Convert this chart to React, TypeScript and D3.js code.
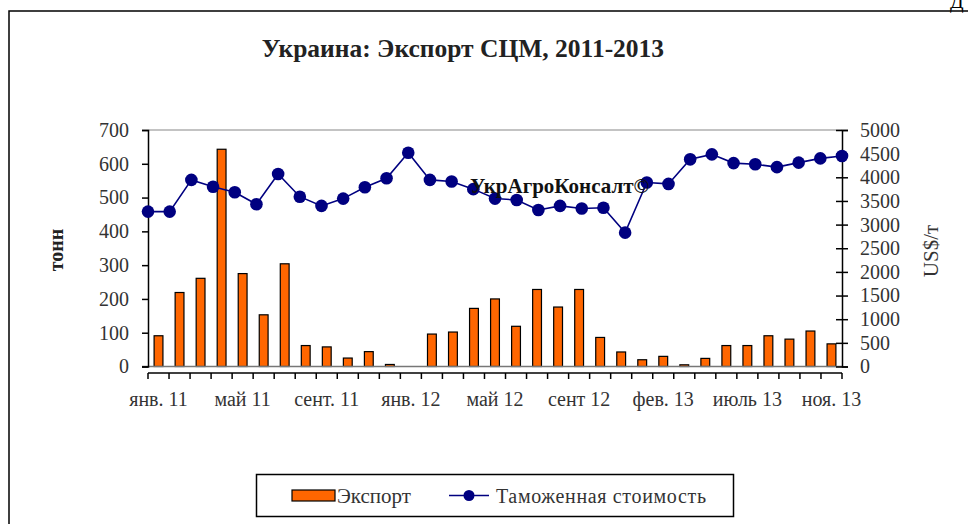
import React, { useEffect, useRef } from 'react';
import * as d3 from 'd3';

// months (some months absent in the source table)
const months = [
  'янв. 11', 'фев. 11', 'март 11', 'апр. 11', 'май 11', 'июнь 11', 'июль 11', 'авг. 11',
  'сент. 11', 'окт. 11', 'ноя. 11', 'дек. 11', 'янв. 12', 'фев. 12', 'март 12', 'апр. 12',
  'май 12', 'июнь 12', 'июль 12', 'авг. 12', 'сент 12', 'окт. 12', 'ноя. 12', 'янв. 13',
  'фев. 13', 'март 13', 'апр. 13', 'июнь 13', 'июль 13', 'авг. 13', 'сент. 13', 'окт. 13', 'ноя. 13',
];

// export, tonnes
const exportTons = [
  91, 219, 261, 643, 275, 153, 304, 62, 58, 25, 44, 6,
  0, 96, 102, 172, 200, 119, 228, 176, 228, 86, 43, 20,
  30, 5, 24, 62, 62, 91, 81, 105, 67,
];

// customs value, US$/t
const customsValue = [
  3275, 3275, 3945, 3800, 3685, 3430, 4070, 3590, 3395, 3550, 3790, 3980,
  4520, 3945, 3910, 3750, 3550, 3520, 3310, 3395, 3340, 3355, 2830, 3890,
  3860, 4380, 4485, 4300, 4275, 4215, 4310, 4400, 4450,
];

const leftTicks = [0, 100, 200, 300, 400, 500, 600, 700];
const rightTicks = [0, 500, 1000, 1500, 2000, 2500, 3000, 3500, 4000, 4500, 5000];

const App = () => {
  const svgRef = useRef<SVGSVGElement>(null);

  useEffect(() => {
    const svg = d3.select(svgRef.current);
    svg.selectAll('*').remove();

    const font = '"Liberation Serif", "Times New Roman", serif';
    const left = 148, right = 842, top = 130, bottom = 366.5;

    // outer frame (cut off at right / bottom)
    svg.append('path')
      .attr('d', 'M9,530 L9,11 L975,11')
      .attr('fill', 'none')
      .attr('stroke', '#000')
      .attr('stroke-width', 1.5);

    svg.append('text')
      .attr('x', 950).attr('y', 8)
      .attr('font-family', font).attr('font-size', 20)
      .text('Д');

    // title
    svg.append('text')
      .attr('x', 463).attr('y', 57)
      .attr('text-anchor', 'middle')
      .attr('font-family', font).attr('font-size', 25.5).attr('font-weight', 'bold')
      .attr('fill', '#222')
      .text('Украина: Экспорт СЦМ, 2011-2013');

    const x = d3.scaleBand<string>()
      .domain(months)
      .range([left, right])
      .paddingInner(0.58)
      .paddingOuter(0.29);

    const xLine = d3.scalePoint<string>()
      .domain(months)
      .range([left, right]);

    const yL = d3.scaleLinear().domain([0, 700]).range([bottom, top]);
    const yR = d3.scaleLinear().domain([0, 5000]).range([bottom, top]);

    // plot area top border
    svg.append('line')
      .attr('x1', left).attr('x2', right).attr('y1', top).attr('y2', top)
      .attr('stroke', '#888').attr('stroke-width', 1.2);

    // bars
    svg.selectAll('.bar')
      .data(exportTons)
      .enter().append('rect')
      .attr('class', 'bar')
      .attr('x', (d, i) => x(months[i]))
      .attr('y', d => yL(d))
      .attr('width', x.bandwidth())
      .attr('height', d => bottom - yL(d))
      .attr('fill', '#FF6600')
      .attr('stroke', '#000')
      .attr('stroke-width', 1.2);

    svg.append('line')
      .attr('x1', left - 6).attr('x2', right).attr('y1', bottom).attr('y2', bottom)
      .attr('stroke', '#777').attr('stroke-width', 1.5);

    // left axis
    const gL = svg.append('g').attr('transform', `translate(${left},0)`)
      .call(d3.axisLeft(yL).tickValues(leftTicks).tickSize(6).tickPadding(13));
    gL.select('.domain').attr('stroke', '#000').attr('stroke-width', 1.5);
    gL.selectAll('.tick line').attr('stroke', '#000').attr('stroke-width', 1.5);
    gL.selectAll('text').attr('font-family', font).attr('font-size', 20).attr('fill', '#333');

    // right axis
    const gR = svg.append('g').attr('transform', `translate(${right},0)`)
      .call(d3.axisRight(yR).tickValues(rightTicks).tickFormat(d3.format('d')).tickSize(6).tickPadding(12));
    gR.select('.domain').attr('stroke', '#000').attr('stroke-width', 1.5);
    gR.selectAll('.tick line').attr('x1', -6).attr('stroke', '#000').attr('stroke-width', 1.5);
    gR.selectAll('text').attr('font-family', font).attr('font-size', 20).attr('fill', '#333');

    // category axis
    const axY = 373;
    const step = x.step();
    const bounds = d3.range(months.length + 1).map(i => left + i * step);
    svg.append('line')
      .attr('x1', left).attr('x2', right).attr('y1', axY).attr('y2', axY)
      .attr('stroke', '#000').attr('stroke-width', 1.5);
    svg.selectAll('.xtick')
      .data(bounds)
      .enter().append('line')
      .attr('class', 'xtick')
      .attr('x1', d => d).attr('x2', d => d)
      .attr('y1', axY).attr('y2', axY + 6)
      .attr('stroke', '#000').attr('stroke-width', 1.5);
    svg.selectAll('.xlabel')
      .data(months.filter((m, i) => i % 4 === 0))
      .enter().append('text')
      .attr('class', 'xlabel')
      .attr('x', d => x(d) + x.bandwidth() / 2)
      .attr('y', 406)
      .attr('text-anchor', 'middle')
      .attr('font-family', font).attr('font-size', 20).attr('fill', '#333')
      .text(d => d);

    // line
    const line = d3.line<number>()
      .x((d, i) => xLine(months[i]))
      .y(d => yR(d));
    svg.append('path')
      .datum(customsValue)
      .attr('d', line)
      .attr('fill', 'none')
      .attr('stroke', '#000080')
      .attr('stroke-width', 1.6);
    svg.selectAll('.pt')
      .data(customsValue)
      .enter().append('circle')
      .attr('class', 'pt')
      .attr('cx', (d, i) => xLine(months[i]))
      .attr('cy', d => yR(d))
      .attr('r', 6.3)
      .attr('fill', '#000080');

    // watermark
    svg.append('text')
      .attr('x', 470).attr('y', 193)
      .attr('font-family', font).attr('font-size', 21).attr('font-weight', 'bold')
      .attr('fill', '#111')
      .text('УкрАгроКонсалт©');

    // axis titles
    svg.append('text')
      .attr('transform', 'translate(63,250) rotate(-90)')
      .attr('text-anchor', 'middle')
      .attr('font-family', font).attr('font-size', 20).attr('font-weight', 'bold')
      .attr('fill', '#222')
      .text('тонн');
    svg.append('text')
      .attr('transform', 'translate(938,251) rotate(-90)')
      .attr('text-anchor', 'middle')
      .attr('font-family', font).attr('font-size', 21)
      .attr('fill', '#333')
      .text('US$/т');

    // legend
    const lg = svg.append('g');
    lg.append('rect')
      .attr('x', 256.5).attr('y', 474.5).attr('width', 477).attr('height', 42)
      .attr('fill', '#fff').attr('stroke', '#000').attr('stroke-width', 1.5);
    lg.append('rect')
      .attr('x', 292).attr('y', 490).attr('width', 43).attr('height', 11)
      .attr('fill', '#FF6600').attr('stroke', '#000').attr('stroke-width', 1.2);
    lg.append('text')
      .attr('x', 337).attr('y', 503)
      .attr('font-family', font).attr('font-size', 21).attr('fill', '#333')
      .text('Экспорт');
    lg.append('line')
      .attr('x1', 449).attr('x2', 489).attr('y1', 495.5).attr('y2', 495.5)
      .attr('stroke', '#000080').attr('stroke-width', 1.6);
    lg.append('circle')
      .attr('cx', 469).attr('cy', 495.5).attr('r', 5.5).attr('fill', '#000080');
    lg.append('text')
      .attr('x', 496).attr('y', 503)
      .attr('font-family', font).attr('font-size', 20).attr('fill', '#333')
      .attr('textLength', 210)
      .text('Таможенная стоимость');
  }, []);

  return (
    <svg ref={svgRef} width={968} height={524}
      style={{ position: 'absolute', left: 0, top: 0, background: '#fff' }} />
  );
};

export default App;
